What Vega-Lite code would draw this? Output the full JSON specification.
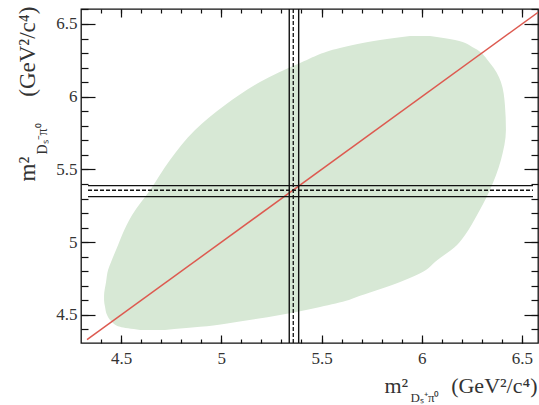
{
  "$schema": "https://vega.github.io/schema/vega-lite/v6.json",
  "width": 457,
  "height": 334,
  "autosize": "none",
  "padding": {"left": 81, "top": 9, "right": 1, "bottom": 62},
  "background": "white",
  "config": {
    "view": {"stroke": "#111", "strokeWidth": 1.3},
    "axis": {"grid": false, "domain": false, "tickColor": "#111", "tickWidth": 1.2, "labelFont": "Liberation Serif", "labelFontSize": 17, "labelColor": "#333", "titleFont": "Liberation Serif", "titleFontSize": 22, "titleColor": "#333", "titleFontWeight": "normal"}
  },
  "resolve": {"axis": {"x": "independent", "y": "independent"}},
  "layer": [
    {
      "data": {"values": [
        {"y": 4.397, "xl": 4.595, "xr": 4.719},
        {"y": 4.418, "xl": 4.495, "xr": 4.894},
        {"y": 4.459, "xl": 4.450, "xr": 5.108},
        {"y": 4.500, "xl": 4.430, "xr": 5.293},
        {"y": 4.555, "xl": 4.420, "xr": 5.493},
        {"y": 4.603, "xl": 4.415, "xr": 5.637},
        {"y": 4.631, "xl": 4.415, "xr": 5.692},
        {"y": 4.727, "xl": 4.425, "xr": 5.892},
        {"y": 4.809, "xl": 4.435, "xr": 6.021},
        {"y": 4.864, "xl": 4.450, "xr": 6.066},
        {"y": 4.981, "xl": 4.485, "xr": 6.176},
        {"y": 5.050, "xl": 4.505, "xr": 6.216},
        {"y": 5.187, "xl": 4.555, "xr": 6.276},
        {"y": 5.359, "xl": 4.645, "xr": 6.340},
        {"y": 5.565, "xl": 4.744, "xr": 6.395},
        {"y": 5.771, "xl": 4.869, "xr": 6.420},
        {"y": 5.943, "xl": 5.019, "xr": 6.415},
        {"y": 6.101, "xl": 5.193, "xr": 6.395},
        {"y": 6.232, "xl": 5.393, "xr": 6.340},
        {"y": 6.335, "xl": 5.592, "xr": 6.261},
        {"y": 6.390, "xl": 5.792, "xr": 6.166},
        {"y": 6.418, "xl": 5.941, "xr": 6.041}
      ]},
      "mark": {"type": "area", "orient": "horizontal", "interpolate": "monotone", "color": "#d7e8d5", "opacity": 1},
      "encoding": {
        "y": {"field": "y", "type": "quantitative", "scale": {"domain": [4.307, 6.603], "nice": false, "zero": false},
          "axis": {"orient": "left", "values": [4.5, 5, 5.5, 6, 6.5], "ticks": false, "labelPadding": 4, "format": "~g", "labelFlush": false, "labelOverlap": false,
            "title": "m²", "titleFontSize": 23, "titleAngle": 270, "titleAlign": "left", "titleBaseline": "alphabetic", "titleX": -47, "titleY": 172}},
        "x": {"field": "xl", "type": "quantitative", "scale": {"domain": [4.3, 6.58], "nice": false, "zero": false},
          "axis": {"orient": "bottom", "values": [4.5, 5, 5.5, 6, 6.5], "ticks": false, "labelPadding": 7, "format": "~g", "labelFlush": false, "labelOverlap": false,
            "title": "m²", "titleAlign": "left", "titleBaseline": "alphabetic", "titleX": 303, "titleY": 49}},
        "x2": {"field": "xr"}
      }
    },
    {
      "data": {"values": [{"v": 4.33}, {"v": 6.62}]},
      "mark": {"type": "line", "color": "#dd5a50", "strokeWidth": 1.5, "clip": true},
      "encoding": {
        "x": {"field": "v", "type": "quantitative",
          "axis": {"orient": "bottom", "values": [4.5, 5, 5.5, 6, 6.5], "tickSize": -8, "labels": false,
            "title": "(GeV²/c⁴)", "titleAlign": "right", "titleBaseline": "alphabetic", "titleX": 456, "titleY": 49}},
        "y": {"field": "v", "type": "quantitative",
          "axis": {"orient": "left", "values": [4.5, 5, 5.5, 6, 6.5], "tickSize": -14, "labels": false,
            "title": "(GeV²/c⁴)", "titleFontSize": 23, "titleAngle": 270, "titleAlign": "right", "titleBaseline": "alphabetic", "titleX": -47, "titleY": -3}}
      }
    },
    {
      "data": {"values": [{"h": 5.313}, {"h": 5.389}]},
      "mark": {"type": "rule", "color": "#111", "strokeWidth": 1.4},
      "encoding": {
        "y": {"field": "h", "type": "quantitative",
          "axis": {"orient": "left", "values": [4.4, 4.5, 4.6, 4.7, 4.8, 4.9, 5.0, 5.1, 5.2, 5.3, 5.4, 5.5, 5.6, 5.7, 5.8, 5.9, 6.0, 6.1, 6.2, 6.3, 6.4, 6.5, 6.6], "tickSize": -7, "labels": false,
            "title": "Dₛ⁻π⁰", "titleFontSize": 14, "titleAngle": 270, "titleAlign": "left", "titleBaseline": "alphabetic", "titleX": -35, "titleY": 145}},
        "x": {"datum": 4.335, "type": "quantitative",
          "axis": {"orient": "bottom", "values": [4.4, 4.5, 4.6, 4.7, 4.8, 4.9, 5.0, 5.1, 5.2, 5.3, 5.4, 5.5, 5.6, 5.7, 5.8, 5.9, 6.0, 6.1, 6.2, 6.3, 6.4, 6.5], "tickSize": -4, "labels": false,
            "title": "Dₛ⁺π⁰", "titleFontSize": 13, "titleAlign": "left", "titleBaseline": "alphabetic", "titleX": 329, "titleY": 58}},
        "x2": {"datum": 6.555}
      }
    },
    {
      "data": {"values": [{"h": 5.357}]},
      "mark": {"type": "rule", "color": "#111", "strokeWidth": 1.3, "strokeDash": [4, 2]},
      "encoding": {
        "y": {"field": "h", "type": "quantitative",
          "axis": {"orient": "right", "values": [4.5, 5, 5.5, 6, 6.5], "tickSize": -14, "labels": false, "title": null}},
        "x": {"datum": 4.335, "type": "quantitative",
          "axis": {"orient": "top", "values": [4.5, 5, 5.5, 6, 6.5], "tickSize": -8, "labels": false, "title": null}},
        "x2": {"datum": 6.555}
      }
    },
    {
      "data": {"values": [{"w": 5.339}, {"w": 5.386}]},
      "mark": {"type": "rule", "color": "#111", "strokeWidth": 1.4},
      "encoding": {
        "x": {"field": "w", "type": "quantitative",
          "axis": {"orient": "top", "values": [4.4, 4.5, 4.6, 4.7, 4.8, 4.9, 5.0, 5.1, 5.2, 5.3, 5.4, 5.5, 5.6, 5.7, 5.8, 5.9, 6.0, 6.1, 6.2, 6.3, 6.4, 6.5], "tickSize": -4, "labels": false, "title": null}},
        "y": {"datum": 4.307, "type": "quantitative",
          "axis": {"orient": "right", "values": [4.4, 4.5, 4.6, 4.7, 4.8, 4.9, 5.0, 5.1, 5.2, 5.3, 5.4, 5.5, 5.6, 5.7, 5.8, 5.9, 6.0, 6.1, 6.2, 6.3, 6.4, 6.5, 6.6], "tickSize": -7, "labels": false, "title": null}},
        "y2": {"datum": 6.603}
      }
    },
    {
      "data": {"values": [{"w": 5.359}]},
      "mark": {"type": "rule", "color": "#111", "strokeWidth": 1.3, "strokeDash": [4, 2]},
      "encoding": {
        "x": {"field": "w", "type": "quantitative", "axis": null},
        "y": {"datum": 4.307, "type": "quantitative", "axis": null},
        "y2": {"datum": 6.603}
      }
    }
  ]
}
